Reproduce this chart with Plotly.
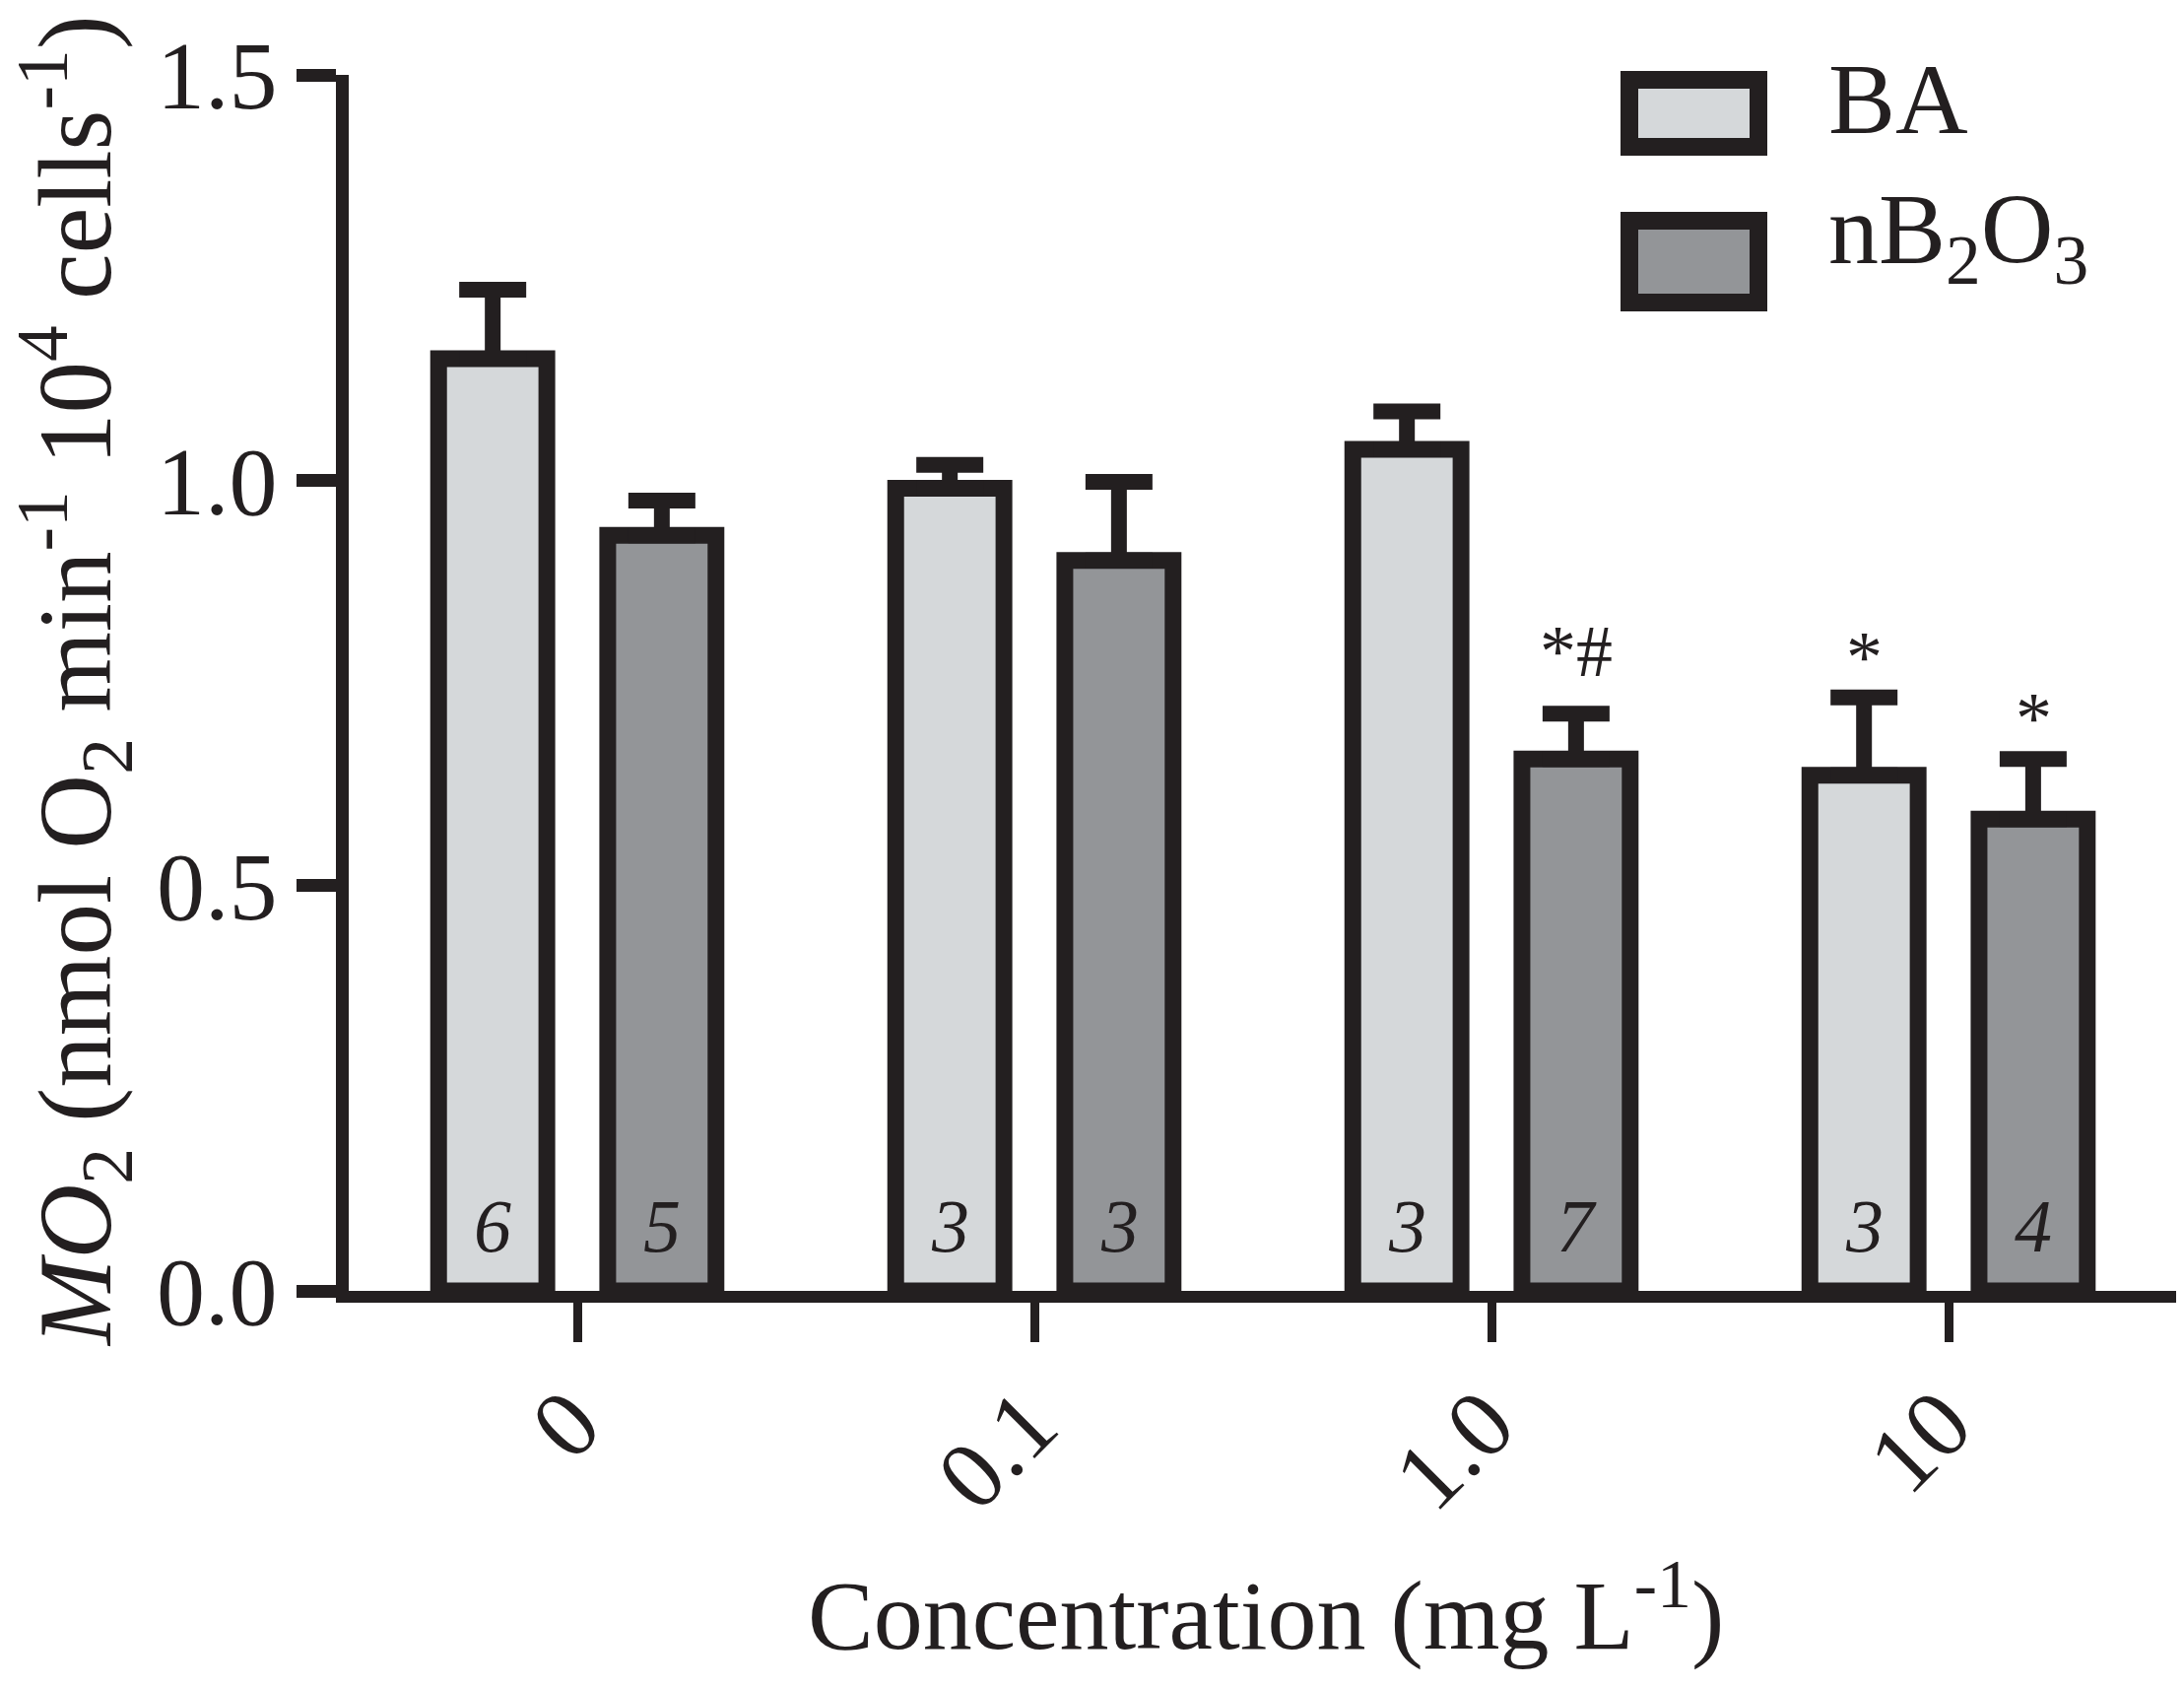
import plotly.graph_objects as go

# --- data ---
concentrations = ["0", "0.1", "1.0", "10"]
ba_mean = [1.150, 0.990, 1.038, 0.636]
ba_sem = [0.085, 0.029, 0.047, 0.096]
nb_mean = [0.932, 0.901, 0.656, 0.582]
nb_sem = [0.043, 0.097, 0.056, 0.074]
ba_n = ["6", "3", "3", "3"]
nb_n = ["5", "3", "7", "4"]
ba_sig = ["", "", "", "*"]
nb_sig = ["", "", "*#", "*"]

INK = "#231f20"
FONT = "Liberation Serif"
BA_FILL = "#d5d8da"
NB_FILL = "#939598"

W, H = 2217, 1713
L, R, T, B = 346, 8, 68, 411
plot_w = W - L - R
plot_h = H - T - B


def px_x(px):
    return (px - L) / plot_w


def px_y(py):
    return (H - B - py) / plot_h


fig = go.Figure()

for name, mean, sem, fill in [
    ("BA", ba_mean, ba_sem, BA_FILL),
    ("nB<sub>2</sub>O<sub>3</sub>", nb_mean, nb_sem, NB_FILL),
]:
    fig.add_trace(
        go.Bar(
            x=concentrations,
            y=mean,
            name=name,
            marker=dict(color=fill, line=dict(color=INK, width=17)),
            error_y=dict(
                type="data",
                array=sem,
                symmetric=False,
                arrayminus=[0] * len(sem),
                color=INK,
                thickness=16,
                width=34,
            ),
            showlegend=False,
        )
    )

# n per bar (italic, at the bar foot) and significance marks above the caps
offset_px = 86
for ns, sig, mean, sem, shift in [
    (ba_n, ba_sig, ba_mean, ba_sem, -offset_px),
    (nb_n, nb_sig, nb_mean, nb_sem, offset_px),
]:
    for i, (n, s, m, e) in enumerate(zip(ns, sig, mean, sem)):
        fig.add_annotation(
            x=i,
            y=0,
            text=n,
            showarrow=False,
            xshift=shift,
            yshift=22,
            yanchor="bottom",
            font=dict(family=FONT, size=76, color=INK, style="italic"),
        )
        if s:
            # a lone asterisk sits high in its line box, so drop it a little
            fig.add_annotation(
                x=i,
                y=m + e,
                text=s,
                showarrow=False,
                xshift=shift,
                yshift=20 if "#" in s else -2,
                yanchor="bottom",
                font=dict(family=FONT, size=74, color=INK),
            )

# hand-drawn legend (large boxes like the original)
legend_items = [
    ("BA", BA_FILL, 64, 150, 92),
    ("nB<sub>2</sub>O<sub>3</sub>", NB_FILL, 207, 308, 231),
]
for label, fill, y0, y1, ytext in legend_items:
    fig.add_shape(
        type="rect",
        xref="paper",
        yref="paper",
        x0=px_x(1646),
        x1=px_x(1777),
        y0=px_y(y1 - 9),
        y1=px_y(y0 + 9),
        fillcolor=fill,
        line=dict(color=INK, width=18),
    )
    fig.add_annotation(
        xref="paper",
        yref="paper",
        x=px_x(1846),
        y=px_y(ytext),
        text=label,
        showarrow=False,
        xanchor="left",
        yanchor="middle",
        font=dict(family=FONT, size=102, color=INK),
    )

# axis titles placed as annotations so they sit exactly where the original has them
fig.add_annotation(
    xref="paper",
    yref="paper",
    x=px_x(1277),
    y=px_y(1624),
    text="Concentration (mg L<sup>-1</sup>)",
    showarrow=False,
    xanchor="center",
    yanchor="middle",
    font=dict(family=FONT, size=100, color=INK),
)
fig.add_annotation(
    xref="paper",
    yref="paper",
    x=px_x(68),
    y=px_y(683),
    text="<i>MO</i><sub>2</sub> (nmol O<sub>2</sub> min<sup>-1</sup> 10<sup>4</sup> cells<sup>-1</sup>)",
    textangle=-90,
    showarrow=False,
    xanchor="center",
    yanchor="middle",
    font=dict(family=FONT, size=105, color=INK),
)

fig.update_layout(
    width=W,
    height=H,
    margin=dict(l=L, r=R, t=T, b=B, autoexpand=False),
    paper_bgcolor="white",
    plot_bgcolor="white",
    barmode="group",
    bargap=0.26,
    bargroupgap=0.36,
    font=dict(family=FONT, color=INK),
    xaxis=dict(
        type="category",
        range=[-0.5, 3.515],
        showline=True,
        linecolor=INK,
        linewidth=12,
        ticks="outside",
        ticklen=40,
        tickwidth=9,
        tickcolor=INK,
        tickangle=-45,
        ticklabelstandoff=-14,
        ticklabelshift=-6,
        tickfont=dict(family=FONT, size=98, color=INK),
        showgrid=False,
        zeroline=False,
        automargin=False,
    ),
    yaxis=dict(
        range=[0, 1.5],
        tickvals=[0, 0.5, 1.0, 1.5],
        ticktext=["0.0", "0.5", "1.0", "1.5"],
        showline=True,
        linecolor=INK,
        linewidth=13,
        ticks="outside",
        ticklen=40,
        tickwidth=13,
        tickcolor=INK,
        ticklabelstandoff=0,
        tickfont=dict(family=FONT, size=98, color=INK),
        showgrid=False,
        zeroline=False,
        automargin=False,
    ),
)

fig.write_html("out.html")
